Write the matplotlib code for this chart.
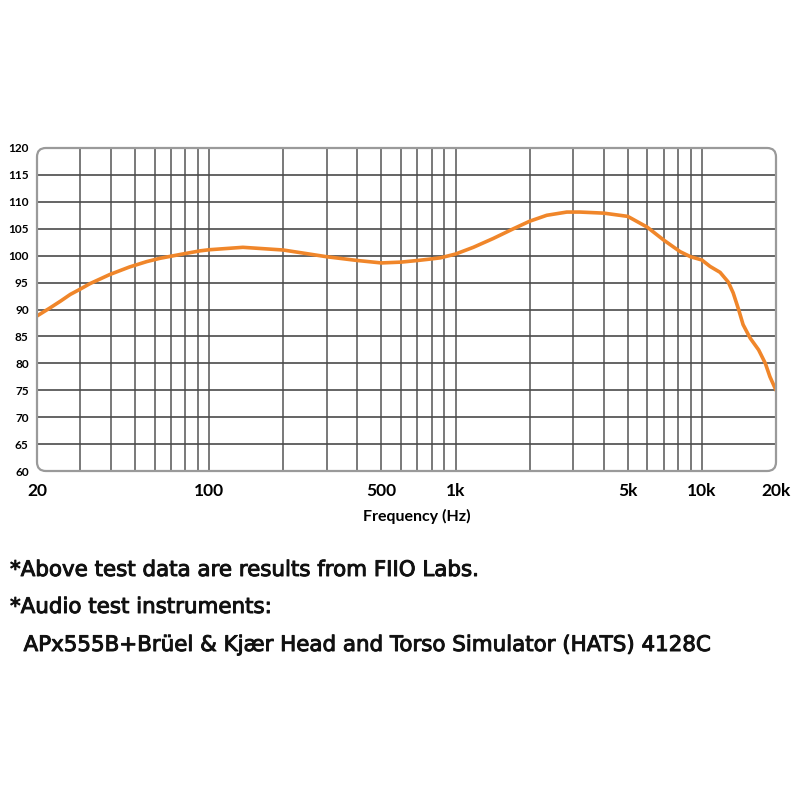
import matplotlib
matplotlib.use("Agg")
import matplotlib.pyplot as plt
import matplotlib.patheffects as pe
from matplotlib.patches import FancyBboxPatch
from matplotlib.ticker import NullFormatter, FixedLocator

# Frequency response data
freq_hz = [20, 22.6, 25, 27.3, 30, 32.8, 39.5, 47.5, 55.8, 63, 70, 80, 92, 100, 137, 200,
           300, 400, 500, 600, 700, 800, 869, 1000, 1181, 1424, 1718, 2000, 2346, 2830,
           3200, 4000, 5000, 6000, 7000, 8158, 9000, 10000, 10800, 11860, 12800, 13400,
           14100, 14700, 15700, 17000, 18100, 18900, 20000]
spl_db = [88.8, 90.3, 91.6, 92.8, 93.8, 94.8, 96.5, 97.9, 98.9, 99.5, 99.9, 100.4, 100.9,
          101.1, 101.55, 101.05, 99.8, 99.1, 98.65, 98.8, 99.1, 99.4, 99.6, 100.3, 101.55,
          103.2, 105.0, 106.4, 107.5, 108.1, 108.1, 107.9, 107.3, 105.3, 102.9, 100.75,
          99.8, 99.2, 98.0, 96.9, 95.1, 93.1, 90.0, 87.2, 84.7, 82.5, 80.0, 77.5, 75.0]

x_ticks = [20, 100, 500, 1000, 5000, 10000, 20000]
x_tick_labels = ["20", "100", "500", "1k", "5k", "10k", "20k"]
x_minor_grid = [30, 40, 50, 60, 70, 80, 90, 100, 200, 300, 400, 500, 600, 700, 800, 900,
                1000, 2000, 3000, 4000, 5000, 6000, 7000, 8000, 9000, 10000]
y_ticks = list(range(60, 121, 5))

footer_lines = ["*Above test data are results from FIIO Labs.",
                "*Audio test instruments:",
                "  APx555B+Brüel & Kjær Head and Torso Simulator (HATS) 4128C"]

plt.rcParams['font.family'] = ['Lato', 'DejaVu Sans']

fig = plt.figure(figsize=(8, 8), dpi=100)
ax = fig.add_axes([0.04625, 0.41125, 0.92375, 0.40375])
ax.set_xscale('log')
ax.set_xlim(20, 20000)
ax.set_ylim(60, 120)

for f in x_minor_grid:
    ax.axvline(f, color='#555555', lw=1.1, zorder=1)
for y in y_ticks[1:-1]:
    ax.axhline(y, color='#4a4a4a', lw=1.2, zorder=1)

ax.plot(freq_hz, spl_db, color='#F0862A', lw=2.6, zorder=3, solid_capstyle='round',
        solid_joinstyle='round')

for s in ax.spines.values():
    s.set_visible(False)
frame = FancyBboxPatch((0, 0), 1, 1, boxstyle="round,pad=0,rounding_size=0.012",
                       transform=ax.transAxes, fill=False, edgecolor='#9a9a9a',
                       lw=1.6, zorder=4, clip_on=False, mutation_aspect=2.3)
ax.add_patch(frame)

ax.xaxis.set_major_locator(FixedLocator(x_ticks))
ax.set_xticklabels(x_tick_labels, fontsize=12.5, fontweight='bold')
ax.xaxis.set_minor_formatter(NullFormatter())
ax.xaxis.set_minor_locator(FixedLocator([]))
ax.set_yticks(y_ticks)
ax.set_yticklabels([str(v) for v in y_ticks], fontsize=8.5, fontweight='bold')
ax.tick_params(axis='both', length=0)
ax.tick_params(axis='x', pad=9)
ax.tick_params(axis='y', pad=6)

fig.text(417 / 800, 1 - 516 / 800, "Frequency (Hz)", ha='center', va='center',
         fontsize=11.5, fontweight='bold')

foot_font = dict(ha='left', va='center', fontsize=15.4, fontweight='normal',
                 family=['DejaVu Sans'], color='#111111',
                 path_effects=[pe.withStroke(linewidth=0.7, foreground='#111111')])
fig.text(10 / 800, 1 - 570 / 800, footer_lines[0], **foot_font)
fig.text(10 / 800, 1 - 607 / 800, footer_lines[1], **foot_font)
fig.text(10 / 800, 1 - 645 / 800, footer_lines[2], **foot_font)

fig.savefig("out.png", dpi=100, facecolor='white')
